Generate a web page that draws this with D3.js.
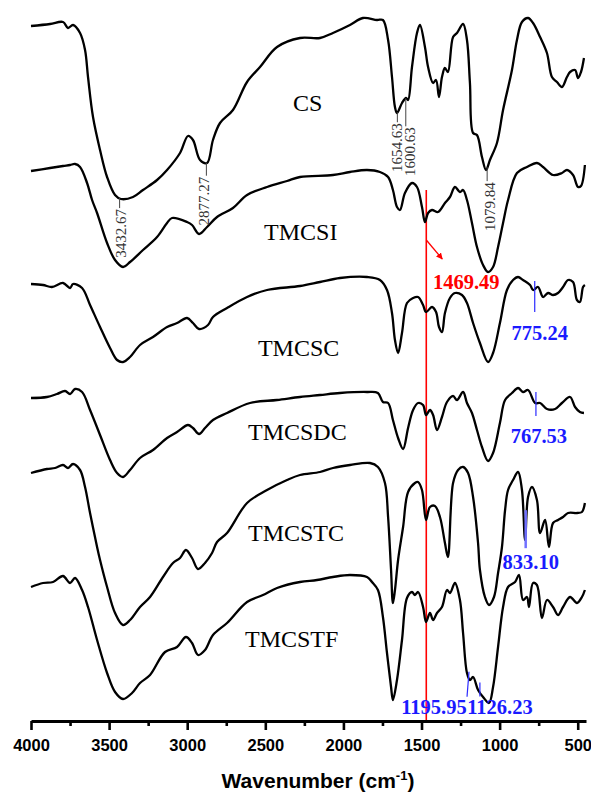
<!DOCTYPE html>
<html lang="en">
<head>
    <meta charset="UTF-8">
    <title>FTIR spectra</title>
    <script src="https://d3js.org/d3.v7.min.js"></script>
    <style>
        body {
            margin: 0;
            background-color: #ffffff;
        }
        #chart svg {
            display: block;
        }
        .curve {
            fill: none;
            stroke: #000;
            stroke-width: 2.3px;
            stroke-linejoin: round;
        }
        .name {
            font-family: 'Liberation Serif', 'Times New Roman', serif;
            font-size: 24px;
        }
        .peak {
            font-family: 'Liberation Serif', 'Times New Roman', serif;
            font-size: 15px;
            fill: #333;
        }
        .hl {
            font-family: 'Liberation Serif', 'Times New Roman', serif;
            font-size: 20.5px;
            font-weight: bold;
        }
        .axis text {
            font-family: 'Liberation Sans', Arial, sans-serif;
            font-size: 16.5px;
            font-weight: bold;
        }
    </style>
</head>
<body>
    <div id="chart"></div>
    <script>
        // [wavenumber (cm-1), transmittance (a.u., offset per curve)]
        const CS = [[4000,696],[3878,698],[3795,700],[3763,694],[3731,697],[3686,689],[3654,672],[3635,645],[3603,605],[3558,572],[3513,545],[3462,527],[3424,523],[3347,525],[3283,532],[3193,542],[3129,552],[3046,569],[2995,586],[2963,582],[2918,562],[2873,559],[2835,582],[2790,599],[2707,612],[2617,640],[2534,655],[2425,675],[2278,684],[2150,684],[2067,689],[1958,697],[1875,704],[1785,702],[1747,702],[1714,682],[1689,645],[1670,615],[1657,609],[1625,619],[1599,624],[1586,622],[1561,655],[1529,689],[1510,697],[1478,675],[1458,655],[1426,639],[1407,642],[1388,625],[1369,645],[1350,654],[1331,650],[1298,685],[1273,689],[1234,698],[1209,682],[1190,639],[1170,589],[1145,587],[1113,565],[1087,552],[1062,562],[1017,579],[978,612],[921,652],[889,682],[857,700],[818,704],[786,699],[741,685],[697,669],[665,645],[633,640],[601,635],[569,645],[549,650],[517,652],[498,644],[479,650],[460,664]];
        const TMCSI = [[4000,551],[3878,554],[3795,556],[3750,557],[3718,558],[3686,555],[3641,539],[3609,522],[3577,509],[3513,479],[3462,462],[3411,455],[3366,460],[3283,472],[3193,485],[3129,499],[3097,504],[3001,500],[2969,497],[2924,488],[2873,495],[2809,505],[2707,514],[2617,527],[2489,535],[2361,541],[2278,545],[2067,547],[1958,550],[1849,552],[1766,550],[1714,545],[1683,532],[1657,515],[1638,512],[1606,529],[1561,539],[1529,535],[1497,515],[1478,500],[1458,509],[1433,512],[1394,510],[1350,519],[1318,525],[1286,535],[1254,530],[1234,532],[1209,522],[1177,499],[1145,475],[1106,457],[1074,450],[1042,455],[1010,475],[978,499],[946,522],[889,549],[825,555],[761,559],[722,555],[658,547],[601,549],[569,552],[530,547],[498,535],[479,536],[454,557]];
        const TMCSC = [[4000,438],[3923,437],[3866,435],[3795,439],[3750,434],[3731,438],[3673,434],[3622,417],[3558,395],[3494,374],[3449,362],[3411,360],[3366,365],[3302,377],[3219,385],[3129,395],[3065,399],[3001,404],[2963,399],[2924,393],[2867,397],[2835,405],[2745,414],[2617,425],[2489,432],[2278,436],[2150,440],[2022,444],[1849,445],[1766,442],[1721,432],[1689,409],[1670,382],[1650,369],[1625,389],[1593,419],[1554,424],[1522,425],[1490,417],[1471,410],[1433,415],[1407,410],[1388,395],[1369,390],[1350,409],[1318,424],[1286,429],[1241,427],[1209,419],[1170,399],[1126,379],[1074,360],[1042,369],[998,399],[953,432],[914,442],[882,445],[850,442],[805,437],[786,432],[754,435],[722,425],[690,429],[658,427],[626,429],[594,435],[562,442],[530,440],[505,422],[486,420],[466,435],[454,437]];
        const TMCSDC = [[4000,324],[3898,325],[3834,328],[3782,331],[3750,328],[3718,333],[3673,330],[3622,312],[3558,287],[3494,262],[3449,249],[3411,245],[3366,252],[3302,264],[3219,272],[3129,284],[3065,290],[2995,297],[2963,294],[2924,288],[2886,294],[2835,302],[2745,309],[2598,319],[2425,322],[2278,325],[2150,327],[2022,329],[1849,330],[1779,329],[1747,320],[1714,319],[1683,302],[1650,284],[1618,273],[1586,294],[1554,312],[1522,319],[1490,317],[1471,307],[1446,312],[1426,307],[1401,292],[1369,305],[1337,320],[1298,326],[1273,322],[1234,330],[1209,319],[1177,309],[1145,292],[1113,275],[1074,261],[1042,269],[998,299],[965,322],[921,329],[882,334],[850,330],[818,332],[773,319],[741,319],[697,313],[645,313],[601,319],[549,325],[517,315],[486,310],[460,309]];
        const TMCSTC = [[4000,249],[3898,253],[3846,254],[3795,257],[3763,254],[3731,258],[3686,252],[3654,235],[3622,209],[3577,175],[3558,162],[3513,135],[3462,109],[3411,97],[3366,102],[3302,115],[3238,125],[3155,145],[3091,159],[3046,164],[3008,172],[2969,164],[2931,153],[2886,159],[2841,169],[2809,180],[2745,189],[2617,219],[2489,232],[2361,242],[2278,247],[2150,250],[2067,254],[1958,257],[1830,259],[1779,255],[1734,239],[1714,205],[1695,152],[1683,119],[1670,132],[1650,162],[1618,195],[1586,230],[1542,239],[1522,240],[1497,232],[1471,202],[1446,215],[1414,216],[1382,205],[1350,179],[1331,165],[1298,239],[1266,252],[1234,255],[1202,249],[1170,225],[1138,179],[1126,152],[1094,125],[1068,117],[1036,125],[1010,149],[985,175],[965,212],[946,232],[914,242],[882,250],[857,232],[837,182],[818,225],[793,235],[761,222],[741,189],[709,202],[684,175],[658,199],[626,202],[594,205],[562,209],[505,209],[473,210],[454,219]];
        const TMCSTF = [[4000,135],[3923,139],[3859,140],[3795,146],[3750,139],[3718,144],[3673,132],[3635,115],[3577,82],[3513,49],[3462,30],[3411,23],[3353,29],[3302,39],[3238,47],[3142,70],[3065,75],[3008,85],[2969,79],[2931,67],[2886,72],[2835,87],[2745,99],[2617,120],[2515,127],[2425,134],[2278,140],[2169,142],[2067,145],[1958,147],[1849,145],[1817,140],[1779,132],[1747,105],[1721,69],[1695,35],[1683,22],[1657,42],[1625,82],[1593,124],[1561,130],[1542,127],[1522,130],[1490,115],[1471,100],[1446,109],[1426,102],[1401,109],[1369,115],[1337,132],[1318,129],[1286,139],[1254,122],[1234,89],[1209,49],[1190,42],[1170,45],[1138,32],[1106,25],[1068,19],[1042,35],[1010,75],[978,115],[946,135],[901,140],[876,147],[850,122],[825,125],[812,115],[786,139],[761,137],[729,104],[697,122],[658,115],[626,107],[594,115],[549,125],[505,119],[473,125],[454,132]];

        const seriesNames = ["CS", "TMCSI", "TMCSC", "TMCSDC", "TMCSTC", "TMCSTF"];
        const seriesData = [CS, TMCSI, TMCSC, TMCSDC, TMCSTC, TMCSTF];

        const xTicks = [4000, 3500, 3000, 2500, 2000, 1500, 1000, 500];
        const xMinorTicks = [3750, 3250, 2750, 2250, 1750, 1250, 750];

        // peaks marked in grey on the CS curve
        const csPeaks = [3432.67, 2877.27, 1654.63, 1600.63, 1079.84];
        // highlighted peaks: [wavenumber, curve]
        const bluePeaks = [[775.24, "TMCSC"], [767.53, "TMCSDC"], [833.10, "TMCSTC"], [1195.95, "TMCSTF"], [1126.23, "TMCSTF"]];
        const redPeak = 1469.49;

        const width = 591, height = 794;
        const x = d3.scaleLinear().domain([4000, 447]).range([31, 586]);
        const y = d3.scaleLinear().domain([0, 720]).range([722, 2]);

        const svg = d3.select("#chart").append("svg")
            .attr("width", width)
            .attr("height", height);

        function valueAt(data, wn) {
            for (let i = 0; i < data.length - 1; i++) {
                const a = data[i], b = data[i + 1];
                if (wn <= a[0] && wn >= b[0]) {
                    const t = (a[0] - wn) / (a[0] - b[0]);
                    return a[1] + t * (b[1] - a[1]);
                }
            }
            return data[data.length - 1][1];
        }

        // red reference line
        const rx = x(redPeak);
        svg.append("line")
            .attr("x1", rx).attr("x2", rx)
            .attr("y1", y(532)).attr("y2", y(2))
            .attr("stroke", "#ff0000")
            .attr("stroke-width", 1.6);

        const line = d3.line()
            .x(d => x(d[0]))
            .y(d => y(d[1]))
            .curve(d3.curveCatmullRom.alpha(0.5));

        svg.selectAll("path.curve")
            .data(seriesData)
            .enter()
            .append("path")
            .attr("class", "curve")
            .attr("d", line);

        // curve names
        const namePos = [[2323, 611], [2508, 482], [2547, 366], [2611, 282], [2611, 181], [2630, 75]];
        svg.selectAll("text.name")
            .data(seriesNames)
            .enter()
            .append("text")
            .attr("class", "name")
            .attr("x", (d, i) => x(namePos[i][0]))
            .attr("y", (d, i) => y(namePos[i][1]))
            .text(d => d);

        // grey peak labels on CS
        const greyGap = [10, 13, 10, 28, 14];
        const greyDx = [6, 3, 5, 9, 8];
        csPeaks.forEach((wn, i) => {
            const px = x(wn);
            const cy = y(valueAt(CS, wn));
            const top = cy + greyGap[i];
            svg.append("line")
                .attr("x1", px).attr("x2", px)
                .attr("y1", cy).attr("y2", top)
                .attr("stroke", "#444")
                .attr("stroke-width", 1);
            svg.append("text")
                .attr("class", "peak")
                .attr("transform", `translate(${px + greyDx[i]},${top + 1}) rotate(-90)`)
                .attr("text-anchor", "end")
                .text(wn.toFixed(2));
        });

        // red arrow + label
        svg.append("defs").append("marker")
            .attr("id", "arrow")
            .attr("viewBox", "0 0 10 10")
            .attr("refX", 9).attr("refY", 5)
            .attr("markerWidth", 5).attr("markerHeight", 5)
            .attr("orient", "auto")
            .append("path")
            .attr("d", "M0,0L10,5L0,10z")
            .attr("fill", "#ff0000");
        svg.append("line")
            .attr("x1", rx).attr("y1", y(482))
            .attr("x2", rx + 16).attr("y2", y(463))
            .attr("stroke", "#ff0000")
            .attr("stroke-width", 1.3)
            .attr("marker-end", "url(#arrow)");
        svg.append("text")
            .attr("class", "hl")
            .attr("x", rx + 40).attr("y", y(433))
            .attr("text-anchor", "middle")
            .attr("fill", "#ff0000")
            .text(redPeak.toFixed(2));

        // blue markers: [dyTop, dyBottom, label dx, label dy]
        const blueLayout = [[-8, 23, 5, 51], [-11, 13, 3, 40], [-21, 17, 5, 38], [-6, 19, -35, 36], [-10, 4, 20, 21]];
        bluePeaks.forEach((p, i) => {
            const wn = p[0];
            const data = seriesData[seriesNames.indexOf(p[1])];
            const px = x(wn);
            const cy = y(valueAt(data, wn));
            const L = blueLayout[i];
            svg.append("line")
                .attr("x1", px).attr("y1", cy + L[0])
                .attr("x2", i === 3 ? px - 2 : px).attr("y2", cy + L[1])
                .attr("stroke", i === 2 ? "#7070ff" : "#2a2aff")
                .attr("stroke-width", i === 2 ? 2.5 : 1.2);
            svg.append("text")
                .attr("class", "hl")
                .attr("x", px + L[2]).attr("y", cy + L[3])
                .attr("text-anchor", "middle")
                .attr("fill", "#1a1aff")
                .text(wn.toFixed(2));
        });

        // x axis
        const gx = svg.append("g")
            .attr("class", "axis")
            .attr("transform", `translate(0,${y(1)})`);
        gx.call(d3.axisBottom(x).tickValues(xTicks).tickSize(9).tickSizeOuter(0).tickFormat(d3.format("d")));
        gx.select(".domain").attr("stroke-width", 3);
        gx.selectAll(".tick line").attr("stroke-width", 2.6);
        gx.selectAll(".tick text").attr("y", 30).attr("dy", 0).attr("fill", "#000");

        const gm = svg.append("g")
            .attr("transform", `translate(0,${y(1)})`);
        gm.call(d3.axisBottom(x).tickValues(xMinorTicks).tickSize(5).tickFormat(""));
        gm.select(".domain").remove();
        gm.selectAll(".tick line").attr("stroke-width", 2.6);

        const title = svg.append("text")
            .attr("x", 318).attr("y", 788)
            .attr("text-anchor", "middle")
            .style("font-family", "'Liberation Sans', Arial, sans-serif")
            .style("font-size", "21px")
            .style("font-weight", "bold");
        title.append("tspan").text("Wavenumber (cm");
        title.append("tspan").attr("dy", -8).style("font-size", "13px").text("-1");
        title.append("tspan").attr("dy", 8).text(")");
    </script>
</body>
</html>
